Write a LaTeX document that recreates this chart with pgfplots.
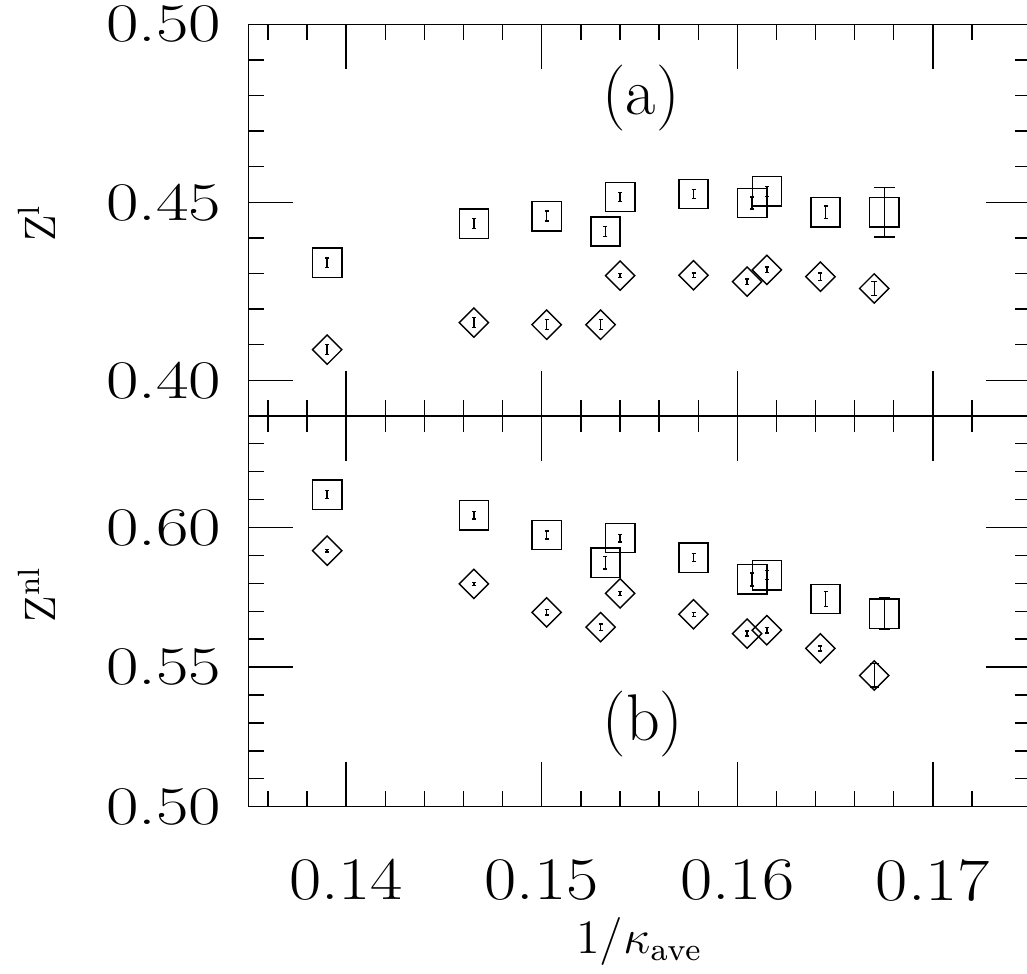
\documentclass[border=0pt]{standalone}
\usepackage{fontspec}
\usepackage{pgfplots}
\pgfplotsset{compat=1.18}
% the reference's numerals are wide and thin: 17pt optical size, stretched
\newfontfamily\ytickfont[FakeStretch=1.3]{lmroman17-regular.otf}
\newfontfamily\xtickfont[FakeStretch=1.16]{lmroman17-regular.otf}
\newfontfamily\panelfont{lmroman17-regular.otf}

% 1 px of the reference = 0.25pt
\pgfplotsset{
  panel/.style={
    scale only axis, width=195.6pt,
    xmin=0.135, xmax=0.175,
    xtick={0.14,0.15,0.16,0.17},
    minor xtick={0.136,0.138,0.142,0.144,0.146,0.148,0.152,0.154,0.156,0.158,
                 0.162,0.164,0.166,0.168,0.172},
    scaled ticks=false,
    tick align=inside,
    major tick length=11.25pt, minor tick length=4pt,
    axis line style={line width=0.35pt},
    every tick/.style={black, line width=0.35pt},
    xticklabel style={font=\xtickfont\fontsize{15.1}{18}\selectfont, yshift=-9.7pt},
    yticklabel style={font=\ytickfont\fontsize{13.6}{16}\selectfont, xshift=-3.2pt},
    /pgf/number format/fixed, /pgf/number format/fixed zerofill,
    /pgf/number format/precision=2,
    /pgf/number format/assume math mode=true,
    clip=false,
  },
  % #1 = half width of the error bar caps
  sq/.style={only marks, black, line width=0.35pt,
    mark=square, mark size=3.66pt,
    error bars/.cd, y dir=both, y explicit,
    error bar style={line width=0.35pt},
    error mark options={rotate=90, mark size=#1, line width=0.35pt}},
  sq/.default=0.5pt,
  dm/.style={only marks, black, line width=0.35pt,
    mark=square, mark size=2.59pt, mark options={rotate=45},
    error bars/.cd, y dir=both, y explicit,
    error bar style={line width=0.35pt},
    error mark options={rotate=90, mark size=#1, line width=0.35pt}},
  dm/.default=0.5pt,
}

\begin{document}
\begin{tikzpicture}

% ---- (b) Z^nl ----
\begin{axis}[panel, name=bot, at={(0,0)}, anchor=south west,
    height=97.7pt,
    ymin=0.50, ymax=0.64,
    ytick={0.50,0.55,0.60},
    minor ytick={0.51,0.52,0.53,0.54,0.56,0.57,0.58,0.59,0.61,0.62,0.63},
    xlabel={1/$\kappa_{\mathrm{ave}}$},
    xlabel style={at={(rel axis cs:0.5,0)}, anchor=base, yshift=-36.75pt,
                  font=\fontsize{12}{14}\selectfont},
  ]
  \addplot[sq] coordinates {
    (0.13903,0.6118) +- (0,0.0014)
    (0.14653,0.6044) +- (0,0.0014)
    (0.15025,0.5973) +- (0,0.0014)
    (0.15326,0.5874) +- (0,0.0023)
    (0.15401,0.5962) +- (0,0.0014)
    (0.15776,0.5892) +- (0,0.0014)
    (0.16076,0.5814) +- (0,0.0023)
    (0.16151,0.5829) +- (0,0.0016)
    (0.16451,0.5744) +- (0,0.0027)
  };
  \addplot[sq=1.4pt] coordinates {(0.16751,0.5691) +- (0,0.0056)};
  \addplot[dm] coordinates {
    (0.13903,0.5917) +- (0,0.0005)
    (0.14653,0.5798) +- (0,0.0005)
    (0.15025,0.5696) +- (0,0.0010)
    (0.15301,0.5643) +- (0,0.0012)
    (0.15401,0.5764) +- (0,0.0007)
    (0.15776,0.5689) +- (0,0.0007)
    (0.16050,0.5620) +- (0,0.0009)
    (0.16151,0.5632) +- (0,0.0010)
    (0.16425,0.5567) +- (0,0.0009)
  };
  \addplot[dm=1.1pt] coordinates {(0.16700,0.5470) +- (0,0.0042)};
  \node[font=\panelfont\fontsize{16.5}{19}\selectfont] at (axis cs:0.15518,0.5295) {(b)};
  \node[rotate=90, font=\fontsize{11}{13}\selectfont]
    at ([xshift=-52.8pt]rel axis cs:0,0.543) {Z\textsuperscript{nl}};
\end{axis}

% ---- (a) Z^l ----
\begin{axis}[panel, name=top, at={(bot.north west)}, anchor=south west,
    height=97.9pt,
    ymin=0.39, ymax=0.50,
    ytick={0.40,0.45,0.50},
    minor ytick={0.41,0.42,0.43,0.44,0.46,0.47,0.48,0.49},
    xticklabels={},
  ]
  \addplot[sq] coordinates {
    (0.13903,0.4330) +- (0,0.0014)
    (0.14653,0.4440) +- (0,0.0014)
    (0.15025,0.4461) +- (0,0.0014)
    (0.15326,0.4418) +- (0,0.0014)
    (0.15401,0.4515) +- (0,0.0013)
    (0.15776,0.4523) +- (0,0.0013)
    (0.16076,0.4498) +- (0,0.0017)
    (0.16151,0.4531) +- (0,0.0014)
    (0.16451,0.4472) +- (0,0.0018)
  };
  \addplot[sq=2.6pt] coordinates {(0.16751,0.4472) +- (0,0.0070)};
  \addplot[dm] coordinates {
    (0.13903,0.4086) +- (0,0.0014)
    (0.14653,0.4162) +- (0,0.0014)
    (0.15025,0.4156) +- (0,0.0014)
    (0.15301,0.4156) +- (0,0.0014)
    (0.15401,0.4294) +- (0,0.0006)
    (0.15776,0.4295) +- (0,0.0006)
    (0.16050,0.4277) +- (0,0.0008)
    (0.16151,0.4310) +- (0,0.0008)
    (0.16425,0.4291) +- (0,0.0010)
  };
  \addplot[dm=0.8pt] coordinates {(0.16700,0.4258) +- (0,0.0020)};
  \node[font=\panelfont\fontsize{16.5}{19}\selectfont] at (axis cs:0.15508,0.4794) {(a)};
  \node[rotate=90, font=\fontsize{11}{13}\selectfont]
    at ([xshift=-52.8pt]rel axis cs:0,0.493) {Z\textsuperscript{l}};
\end{axis}

% the reference is cut just short of the right spine
\pgfresetboundingbox
\path[use as bounding box]
  ([xshift=-62.1pt, yshift=-41.75pt]bot.south west)
  rectangle ([xshift=-0.925pt, yshift=6.075pt]top.north east);
\end{tikzpicture}
\end{document}
